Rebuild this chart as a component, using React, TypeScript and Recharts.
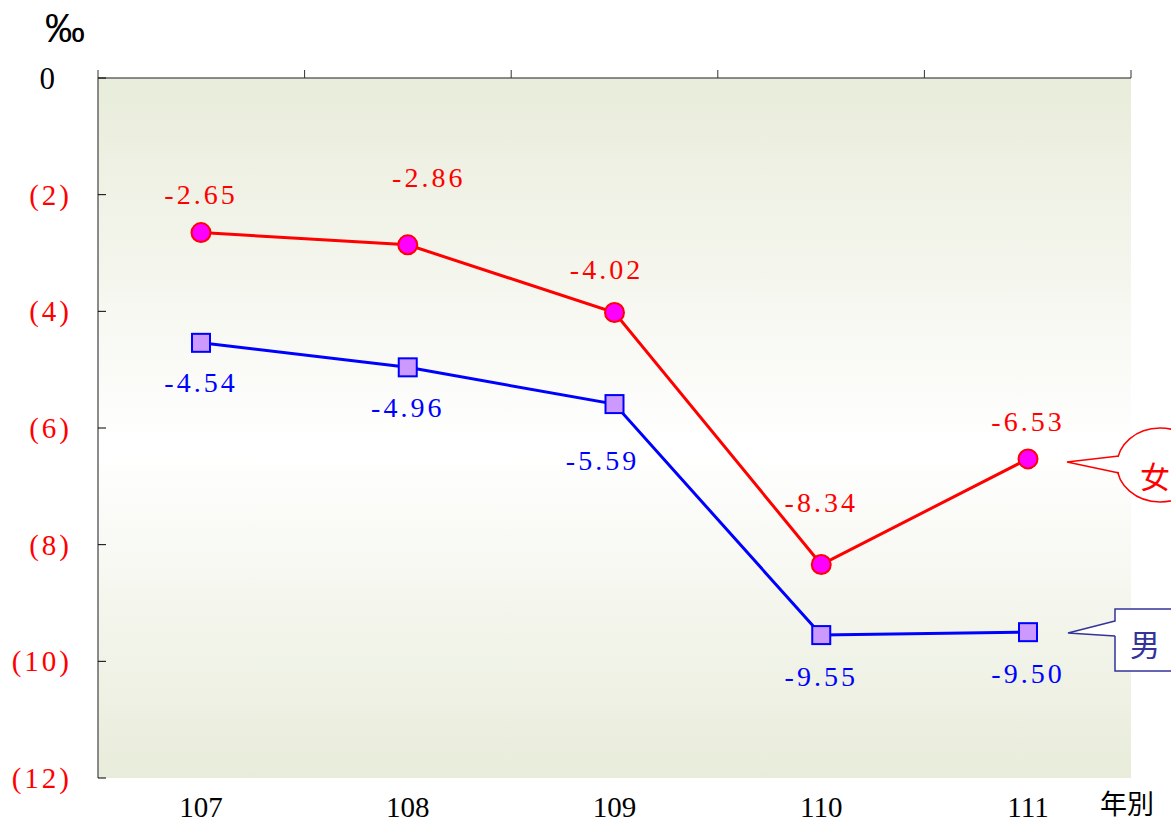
import { LineChart, Line, XAxis, YAxis, CartesianGrid, LabelList } from 'recharts';

const years = ['107', '108', '109', '110', '111'];
const female = [-2.65, -2.86, -4.02, -8.34, -6.53];
const male = [-4.54, -4.96, -5.59, -9.55, -9.5];
const yTicks = [0, -2, -4, -6, -8, -10, -12];
const bandTicks = [0, 1, 2, 3, 4, 5];

// label nudges (dx, dy) from each marker, as laid out in the original
const femaleLabelShift = [[0, -38], [21, -67], [-8, -43], [0, -62], [0, -37]];
const maleLabelShift = [[0, 40], [0, 40], [-12, 56], [0, 41], [0, 41]];

// slot = band centre of each year on the top (edge-tick) axis
const data = years.map((year, i) => ({ year, slot: i + 0.5, female: female[i], male: male[i] }));

const SERIF = '"Liberation Serif", "DejaVu Serif", serif';
const CJK = '"Noto Sans CJK TC", "Noto Sans CJK SC", sans-serif';

const fmt = (v: number) => v.toFixed(2);

function YTick(props: any) {
  const { x, y, payload } = props;
  const v = payload.value as number;
  const zero = v === 0;
  return (
    <g>
      <line x1={x} x2={x + 8} y1={y} y2={y} stroke="#000" strokeWidth={1} />
      <text
        x={zero ? x - 43 : x - 26}
        y={y}
        textAnchor="end"
        dominantBaseline="central"
        fill={zero ? '#000' : '#FF0000'}
        fontFamily={SERIF}
        fontSize={zero ? 31 : 29}
        letterSpacing={zero ? 0 : 3}
      >
        {zero ? '0' : `(${Math.abs(v)})`}
      </text>
    </g>
  );
}

function YearTick(props: any) {
  const { x, y, payload } = props;
  return (
    <text x={x} y={y + 39} textAnchor="middle" fill="#000" fontFamily={SERIF} fontSize={29}>
      {payload.value}
    </text>
  );
}

// top axis: plain upward tick marks on the band edges, no text
function EdgeTick(props: any) {
  const { x, y } = props;
  return <line x1={x} x2={x} y1={y - 8} y2={y} stroke="#333" strokeWidth={1} />;
}

function FemaleDot(props: any) {
  const { cx, cy } = props;
  return <circle cx={cx} cy={cy} r={9.5} fill="#FF00FF" stroke="#FF0000" strokeWidth={2} />;
}

function MaleDot(props: any) {
  const { cx, cy } = props;
  return <rect x={cx - 9} y={cy - 9} width={18} height={18} fill="#CC99FF" stroke="#0000FF" strokeWidth={2} />;
}

const makeLabel = (color: string, shift: number[][]) => (props: any) => {
  const { x, y, value, index } = props;
  const [dx, dy] = shift[index] || [0, 0];
  return (
    <text
      x={x + dx}
      y={y + dy}
      textAnchor="middle"
      dominantBaseline="central"
      fill={color}
      fontFamily={SERIF}
      fontSize={28}
      letterSpacing={3}
    >
      {fmt(value)}
    </text>
  );
};

export default function App() {
  return (
    <div style={{ position: 'absolute', left: 0, top: 0, width: 1171, height: 824, background: '#fff' }}>
      <LineChart width={1171} height={824} data={data} margin={{ top: 0, right: 40, left: 0, bottom: 0 }}>
        <defs>
          <linearGradient id="plotBg" x1="0" y1="0" x2="0" y2="1">
            <stop offset="0%" stopColor="#E8ECDA" />
            <stop offset="53%" stopColor="#FFFFFF" />
            <stop offset="100%" stopColor="#E8ECDA" />
          </linearGradient>
        </defs>
        <CartesianGrid fill="url(#plotBg)" stroke="none" horizontal={false} vertical={false} />
        <XAxis
          xAxisId="band"
          dataKey="slot"
          type="number"
          orientation="top"
          domain={[0, 5]}
          ticks={bandTicks}
          interval={0}
          height={78}
          tickSize={0}
          tickMargin={0}
          tickLine={false}
          tick={<EdgeTick />}
          axisLine={{ stroke: '#666', strokeWidth: 1.5 }}
        />
        <XAxis
          xAxisId="cat"
          dataKey="year"
          orientation="bottom"
          height={46}
          padding={{ left: 103, right: 103 }}
          axisLine={false}
          tickLine={false}
          tickSize={0}
          tickMargin={0}
          tick={<YearTick />}
          interval={0}
        />
        <YAxis
          domain={[-12, 0]}
          ticks={yTicks}
          width={98}
          axisLine={{ stroke: '#666', strokeWidth: 1.5 }}
          tickLine={false}
          tickSize={0}
          tickMargin={0}
          tick={<YTick />}
          interval={0}
          allowDataOverflow
        />
        <Line
          xAxisId="cat"
          dataKey="female"
          stroke="#FF0000"
          strokeWidth={3}
          dot={<FemaleDot />}
          activeDot={false}
          isAnimationActive={false}
        >
          <LabelList dataKey="female" content={makeLabel('#FF0000', femaleLabelShift)} />
        </Line>
        <Line
          xAxisId="cat"
          dataKey="male"
          stroke="#0000FF"
          strokeWidth={3}
          dot={<MaleDot />}
          activeDot={false}
          isAnimationActive={false}
        >
          <LabelList dataKey="male" content={makeLabel('#0000FF', maleLabelShift)} />
        </Line>
      </LineChart>
      <svg width={1171} height={824} style={{ position: 'absolute', left: 0, top: 0, pointerEvents: 'none' }}>
        <text x={45} y={42} fontFamily='"Liberation Sans", Arial, sans-serif' fontSize={40} fill="#000">
          ‰
        </text>
        <text x={1100} y={814} fontFamily={CJK} fontSize={27} fill="#000">
          年別
        </text>
        {/* female callout */}
        <ellipse cx={1160} cy={465} rx={43} ry={37} fill="#fff" stroke="#FF0000" strokeWidth={1.5} />
        <path d="M1124,456 L1067,462 L1124,473 Z" fill="#fff" stroke="none" />
        <path d="M1119,456 L1067,462 L1119,473" fill="none" stroke="#FF0000" strokeWidth={1.5} />
        <text x={1155} y={475} textAnchor="middle" dominantBaseline="central" fontFamily={CJK} fontSize={30} fill="#FF0000">
          女
        </text>
        {/* male callout */}
        <rect x={1115} y={609} width={80} height={62} fill="#fff" stroke="#333399" strokeWidth={1.5} />
        <path d="M1118,621 L1068,633 L1118,636 Z" fill="#fff" stroke="none" />
        <path d="M1115,621 L1068,633 L1115,636" fill="none" stroke="#333399" strokeWidth={1.5} />
        <text x={1145} y={643} textAnchor="middle" dominantBaseline="central" fontFamily={CJK} fontSize={30} fill="#333399">
          男
        </text>
      </svg>
    </div>
  );
}
